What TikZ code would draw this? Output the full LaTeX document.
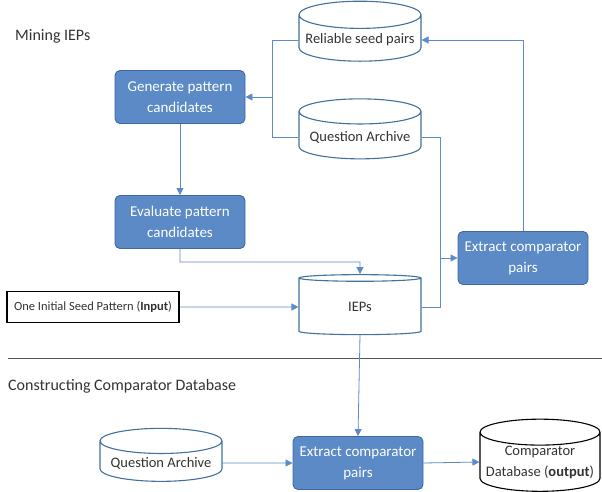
\documentclass[tikz,border=0pt]{standalone}
\usepackage{fontspec}
\setmainfont{Carlito}
\usepackage{tikz}
\usetikzlibrary{arrows.meta,positioning,shapes.geometric,calc}
\definecolor{boxblue}{HTML}{5B8AC6}
\definecolor{boxedge}{HTML}{3D6AA6}
\definecolor{dbedge}{HTML}{41719C}
\definecolor{wire}{HTML}{5B8BC9}
\definecolor{txt90}{HTML}{333333}
\definecolor{rule70}{HTML}{555555}
\tikzset{
  stepbox/.style={
    rectangle, rounded corners=5pt, draw=boxedge, fill=boxblue, line width=0.9pt,
    minimum width=130pt, minimum height=53pt,
    font=\fontsize{15}{21}\selectfont, text=white, align=center,
    inner sep=2pt
  },
  dbnode/.style={
    cylinder, shape border rotate=90, aspect=0.24, draw=#1, fill=white,
    line width=1.1pt, minimum width=122pt, minimum height=60pt,
    font=\fontsize{14.5}{21}\selectfont, text=txt90, align=center,
    inner sep=2pt
  },
  dbnode/.default=dbedge,
  inputbox/.style={rectangle, draw=black, line width=1.5pt, fill=white,
    minimum width=172pt, minimum height=31pt,
    font=\fontsize{12.5}{14}\selectfont, text=txt90, inner sep=3pt},
  heading/.style={anchor=west, font=\fontsize{16}{19}\selectfont, text=txt90,
    inner sep=0pt},
  flow/.style={-{Triangle[length=7pt,width=7pt]}, line width=0.8pt, color=wire},
  link/.style={line width=0.8pt, color=wire},
}
\begin{document}
\begin{tikzpicture}[x=1pt,y=-1pt]
    \useasboundingbox (0,0) rectangle (602,492);
    % mining part
    \node[heading] (mining) at (15,36) {Mining IEPs};
    \node[dbnode] (seedpairs) at (360,40) {Reliable seed pairs};
    \node[dbnode] (archive1) at (360,137) {Question Archive};
    \node[stepbox] (generate) at (180,97) {Generate pattern\\candidates};
    \node[stepbox] (evaluate) at (180,222) {Evaluate pattern\\candidates};
    \node[stepbox] (extract1) at (523,258) {Extract comparator\\pairs};
    \node[dbnode] (ieps) at (360,307) {IEPs};
    \node[inputbox] (seed) at (93,307) {One Initial Seed Pattern (\textbf{Input})};
    \coordinate (join1) at (272,97);
    \coordinate (join2) at (360,262);
    \coordinate (join3) at (440,258);
    \draw[link] (seedpairs.west) -| (join1);
    \draw[link] (archive1.west) -| (join1);
    \draw[flow] (join1) -- (generate.east);
    \draw[flow] (generate.south) -- (evaluate.north);
    \draw[flow] (evaluate.south) |- (join2) -- (ieps.north);
    \draw[flow] (extract1.north) |- (seedpairs.east);
    \draw[link] (archive1.east) -| (join3);
    \draw[link] (ieps.east) -| (join3);
    \draw[flow] (join3) -- (extract1.west);
    \draw[flow] (seed.east) -- (ieps.west);
    % separator
    \coordinate (sepL) at (8,358);
    \coordinate (sepR) at (602,358);
    \draw[rule70, line width=0.8pt] (sepL) -- (sepR);
    % constructing part
    \node[heading] (building) at (8,386) {Constructing Comparator Database};
    \node[dbnode, minimum height=53pt] (archive2) at (161,463) {Question Archive};
    \node[stepbox] (extract2) at (358,463) {Extract comparator\\pairs};
    \node[dbnode=black, minimum width=120pt, minimum height=58pt, inner sep=0pt] (compdb) at (540,462) {Comparator\\Database (\textbf{output})};
    \draw[flow] (ieps.south) -- (extract2.north);
    \draw[flow] (archive2.east) -- (extract2.west);
    \draw[flow] (extract2.east) -- (compdb.west);
\end{tikzpicture}
\end{document}
